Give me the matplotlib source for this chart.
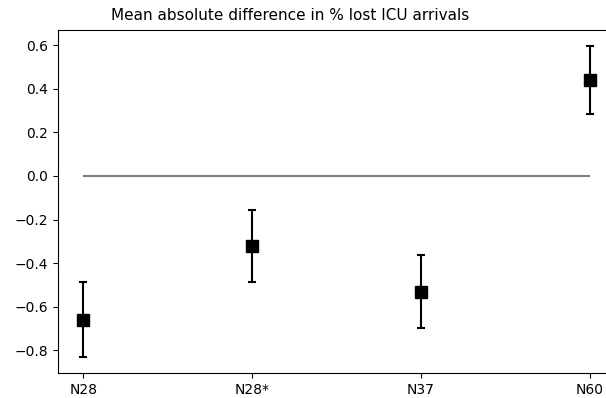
import numpy as np
import matplotlib
matplotlib.use("Agg")
import matplotlib.pyplot as plt

# Data
labels = ["N28", "N28*", "N37", "N60"]
means = [-0.66, -0.32, -0.53, 0.44]
errors = [0.172, 0.166, 0.168, 0.158]

x = np.arange(len(labels))

fig = plt.figure(figsize=(6.06, 3.98), dpi=100)
# axes runs past the right edge, as in the reference crop
ax = fig.add_axes([58 / 606, 25 / 398, (615 - 58) / 606, (373 - 30) / 398])

ax.hlines(0, x[0], x[-1], color="gray", linewidth=1.5)
ax.errorbar(x, means, yerr=errors, fmt="s", color="black", ecolor="black",
            markersize=8, capsize=3, elinewidth=1.5, capthick=1.5)

ax.set_xticks(x)
ax.set_xticklabels(labels)
# title sits left of the axes centre in the reference
ax.set_title("Mean absolute difference in % lost ICU arrivals", fontsize=11,
             x=(290.5 - 58) / (615 - 58), pad=7)

fig.savefig("out.png", dpi=100)
